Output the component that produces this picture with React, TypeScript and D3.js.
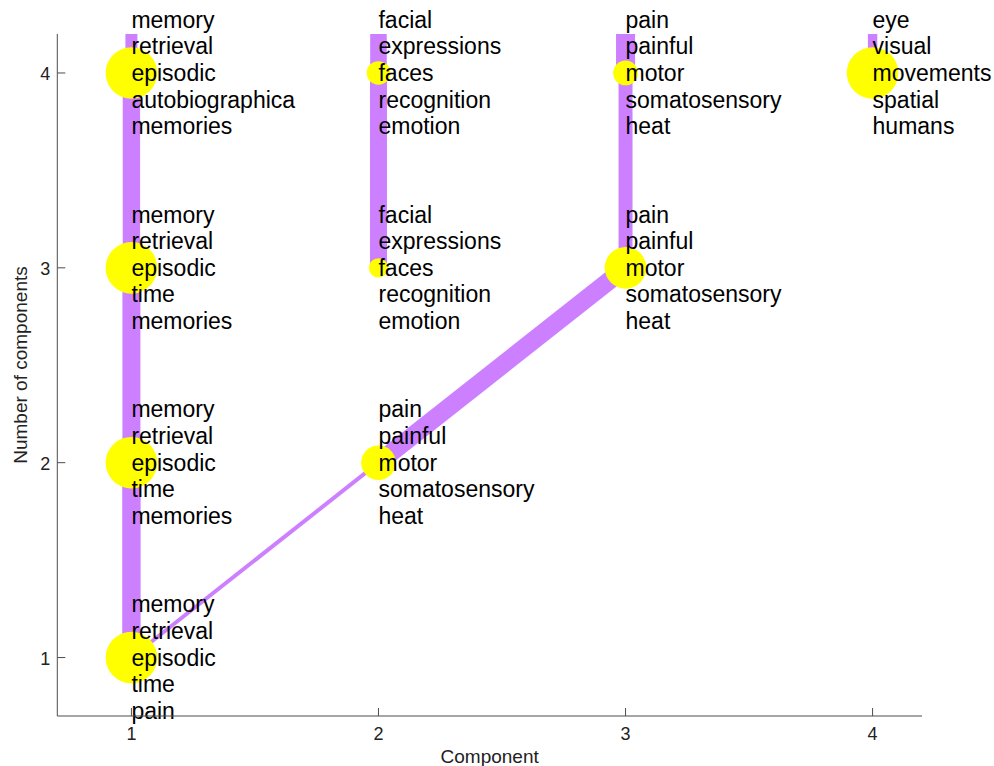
import React from 'react';
import * as d3 from 'd3';

// Nodes: (component, number of components)
const nodeLevels = [1, 2, 2, 3, 3, 3, 4, 4, 4, 4];
const nodeComponents = [1, 1, 2, 1, 2, 3, 1, 2, 3, 4];
const nodeSizes = [1.0, 1.0, 0.45, 1.0, 0.14, 0.65, 1.0, 0.21, 0.23, 1.0];
const nodeWords = [
  ['memory', 'retrieval', 'episodic', 'time', 'pain'],
  ['memory', 'retrieval', 'episodic', 'time', 'memories'],
  ['pain', 'painful', 'motor', 'somatosensory', 'heat'],
  ['memory', 'retrieval', 'episodic', 'time', 'memories'],
  ['facial', 'expressions', 'faces', 'recognition', 'emotion'],
  ['pain', 'painful', 'motor', 'somatosensory', 'heat'],
  ['memory', 'retrieval', 'episodic', 'autobiographica', 'memories'],
  ['facial', 'expressions', 'faces', 'recognition', 'emotion'],
  ['pain', 'painful', 'motor', 'somatosensory', 'heat'],
  ['eye', 'visual', 'movements', 'spatial', 'humans'],
];

// Links between nodes of consecutive levels
const linkFromComp = [1, 1, 1, 2, 1, 2, 3, 1, 2, 3, 4];
const linkFromLevel = [1, 1, 2, 2, 3, 3, 3, 4, 4, 4, 4];
const linkToComp = [1, 2, 1, 3, 1, 2, 3, 1, 2, 3, 4];
const linkToLevel = [2, 2, 3, 3, 4, 4, 4, 5, 5, 5, 5];
const linkWeights = [0.92, 0.2, 0.9, 0.9, 0.87, 0.85, 0.7, 0.6, 0.83, 0.95, 0.47];

const xTicks = [1, 2, 3, 4];
const yTicks = [1, 2, 3, 4];

const W = 994;
const H = 766;
const left = 57.3;
const right = 922;
const top = 34;
const bottom = 716;

export default function App() {
  const x = d3.scaleLinear().domain([0.7, 4.2]).range([left, right]);
  const y = d3.scaleLinear().domain([0.7, 4.2]).range([bottom, top]);
  const r = d3.scaleSqrt().domain([0, 1]).range([0, 25.8]);
  const lw = d3.scaleLinear().domain([0, 1]).range([0, 20]);
  const lineGap = 26.6;
  const font = 'Liberation Sans, Arial, Helvetica, sans-serif';
  const axisColor = '#4d4d4d';

  return (
    <svg
      width={W}
      height={H}
      style={{ position: 'absolute', left: 0, top: 0, background: '#fff' }}
      fontFamily={font}
    >
      <defs>
        <clipPath id="plotclip">
          <rect x={left} y={top} width={right - left} height={bottom - top} />
        </clipPath>
      </defs>
      <rect x={0} y={0} width={W} height={H} fill="#fff" />
      <g clipPath="url(#plotclip)">
        {linkWeights.map((w, i) => (
          <line
            key={'l' + i}
            x1={x(linkFromComp[i])}
            y1={y(linkFromLevel[i])}
            x2={x(linkToComp[i])}
            y2={y(linkToLevel[i])}
            stroke="#cc80ff"
            strokeWidth={lw(w)}
            strokeLinecap="butt"
          />
        ))}
      </g>
      {nodeSizes.map((s, i) => (
        <circle
          key={'c' + i}
          cx={x(nodeComponents[i])}
          cy={y(nodeLevels[i])}
          r={r(s)}
          fill="#ffff00"
        />
      ))}
      {nodeWords.map((words, i) => (
        <g key={'t' + i}>
          {words.map((wd, j) => (
            <text
              key={j}
              x={x(nodeComponents[i])}
              y={y(nodeLevels[i]) + (j - 2) * lineGap + 8}
              fontSize={23}
              fill="#000"
            >
              {wd}
            </text>
          ))}
        </g>
      ))}
      {/* axes */}
      <line x1={left} y1={top} x2={left} y2={bottom} stroke={axisColor} strokeWidth={1} />
      <line x1={left} y1={bottom} x2={right} y2={bottom} stroke={axisColor} strokeWidth={1} />
      {yTicks.map((t) => (
        <g key={'yt' + t}>
          <line x1={left} x2={left + 8} y1={y(t)} y2={y(t)} stroke={axisColor} />
          <text x={left - 7} y={y(t) + 7} fontSize={18} textAnchor="end" fill="#222">
            {t}
          </text>
        </g>
      ))}
      {xTicks.map((t) => (
        <g key={'xt' + t}>
          <line x1={x(t)} x2={x(t)} y1={bottom} y2={bottom - 8} stroke={axisColor} />
          <text x={x(t)} y={740} fontSize={18} textAnchor="middle" fill="#222">
            {t}
          </text>
        </g>
      ))}
      <text x={(left + right) / 2 - 0} y={763} fontSize={19} textAnchor="middle" fill="#222">
        Component
      </text>
      <text
        transform={`translate(27, ${(top + bottom) / 2 - 10}) rotate(-90)`}
        fontSize={19}
        textAnchor="middle"
        fill="#222"
      >
        Number of components
      </text>
    </svg>
  );
}
